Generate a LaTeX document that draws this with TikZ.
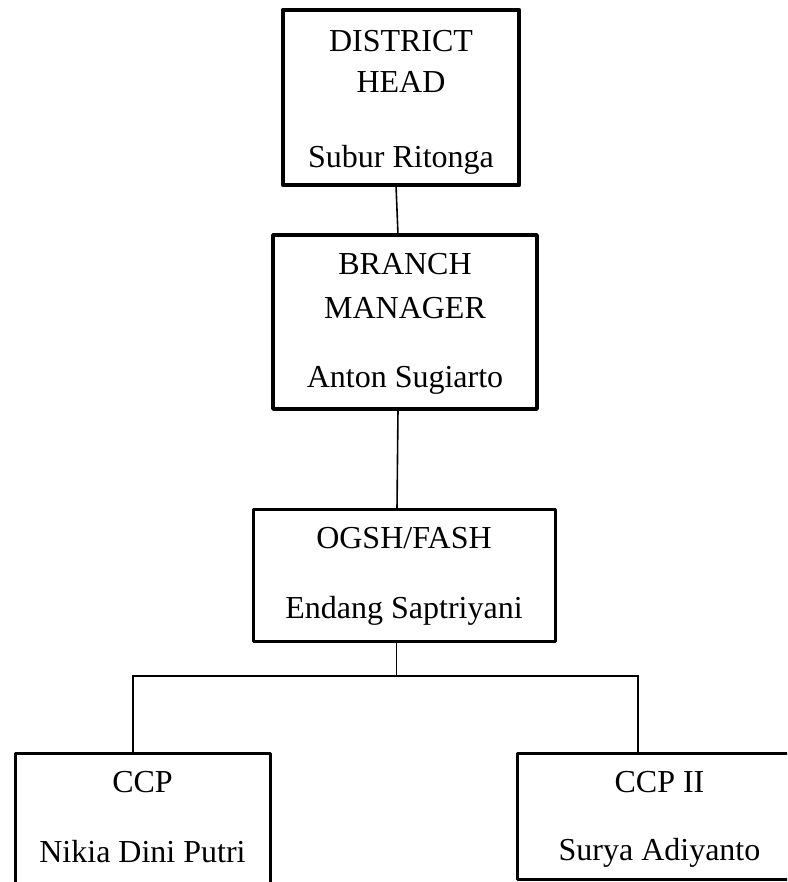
\documentclass[tikz,border=0pt]{standalone}
\usepackage{fontspec}
\setmainfont{Liberation Serif}
\begin{document}
\begin{tikzpicture}[x=1pt,y=-1pt,
  box/.style={draw=black,line width=3pt,line join=round,rectangle,inner sep=0pt,outer sep=0pt,anchor=north west},
  label/.style={inner sep=0pt,anchor=base,font=\fontsize{32}{38}\selectfont},
  conn/.style={draw=black,line width=1.6pt}]
\useasboundingbox (0,0) rectangle (787,882);
\clip (0,0) rectangle (787,882);
\fill[white] (0,0) rectangle (787,882);
% boxes
\node[box,line width=4.2pt,minimum width=236pt,minimum height=175pt] (dh) at (283,10) {};
\node[box,line width=3.4pt,minimum width=264pt,minimum height=174pt] (bm) at (273,235) {};
\node[box,minimum width=302pt,minimum height=132pt] (og) at (253,509) {};
\node[box,minimum width=255pt,minimum height=137pt] (c1) at (15,753) {};
\node[box,minimum width=285pt,minimum height=126pt] (c2) at (517,753) {};
% texts
\node[label] (dh1) at (401,52) {DISTRICT};
\node[label] (dh2) at (401,93) {HEAD};
\node[label] (dh3) at (401,168) {Subur Ritonga};
\node[label] (bm1) at (405,275) {BRANCH};
\node[label] (bm2) at (405,318) {MANAGER};
\node[label] (bm3) at (405,387) {Anton Sugiarto};
\node[label] (og1) at (404,548) {OGSH/FASH};
\node[label] (og2) at (404,618) {Endang Saptriyani};
\node[label] (c11) at (142.5,792) {CCP};
\node[label] (c12) at (142.5,862) {Nikia Dini Putri};
\node[label] (c21) at (659.5,792) {CCP II};
\node[label] (c22) at (659.5,860) {Surya Adiyanto};
% connectors
\coordinate (bar) at (396.5,676);
\draw[conn] ([xshift=-5pt]dh.south) -- ([xshift=-7pt]bm.north);
\draw[conn] ([xshift=-7pt]bm.south) -- ([xshift=-7pt]og.north);
\draw[conn] ([xshift=-7.5pt]og.south) -- (bar);
\draw[conn] ([xshift=-9.5pt]c1.north) |- (bar) -| ([xshift=-21.5pt]c2.north);
\end{tikzpicture}
\end{document}
